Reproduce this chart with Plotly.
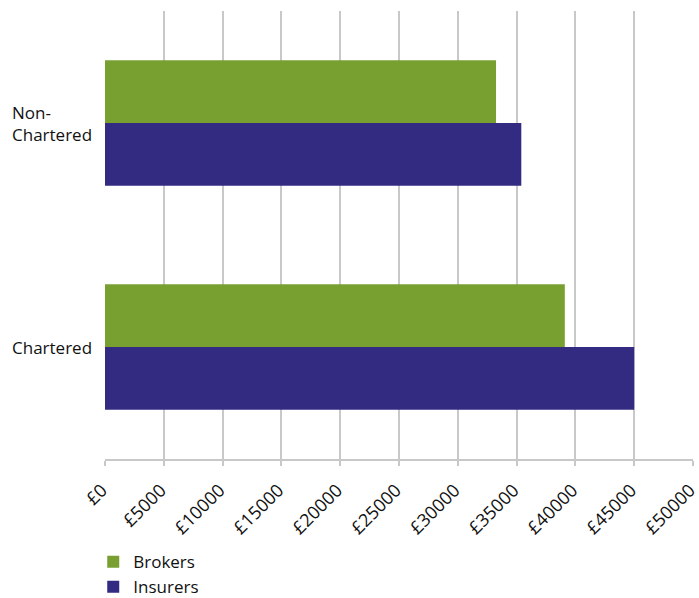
import plotly.graph_objects as go

categories = ["Chartered", "Non-Chartered"]
category_labels = ["Chartered", "Non-<br>Chartered"]
brokers = [39100, 33250]
insurers = [45000, 35400]
x_ticks = list(range(0, 50001, 5000))
x_tick_labels = ["£" + str(v) for v in x_ticks]

GREEN = "#78a030"
BLUE = "#332a82"
FONT = "Open Sans"
FS = 17

fig = go.Figure()
fig.add_trace(go.Bar(y=categories, x=insurers, orientation="h", name="Insurers",
                     marker=dict(color=BLUE, line=dict(width=0))))
fig.add_trace(go.Bar(y=categories, x=brokers, orientation="h", name="Brokers",
                     marker=dict(color=GREEN, line=dict(width=0))))

annotations = []
for c, lab in zip(categories, category_labels):
    annotations.append(dict(x=-95 / 588, xref="paper", y=c, yref="y", text=lab,
                            xanchor="left", yanchor="middle", align="left",
                            showarrow=False, font=dict(family=FONT, size=FS, color="#111111")))

fig.update_layout(
    width=699, height=598,
    margin=dict(l=105, r=6, t=11, b=139, autoexpand=False),
    paper_bgcolor="white", plot_bgcolor="white",
    barmode="group", bargap=0.44, bargroupgap=0,
    font=dict(family=FONT, size=FS, color="#111111"),
    showlegend=True,
    legend=dict(orientation="v", traceorder="reversed", x=-0.02, y=-0.19, xanchor="left", yanchor="top",
                font=dict(family=FONT, size=FS, color="#111111"), itemwidth=30,
                tracegroupgap=0, bgcolor="rgba(0,0,0,0)"),
    annotations=annotations,
)
fig.update_xaxes(range=[0, 50000], tickvals=x_ticks, ticktext=x_tick_labels, tickangle=-45,
                 automargin=False, ticklabeloverflow="allow",
                 ticklabelstandoff=7, ticklabelshift=-3,
                 showgrid=True, gridcolor="#c8c8c8", gridwidth=1.5,
                 showline=True, linecolor="#c8c8c8", linewidth=1.5,
                 ticks="outside", ticklen=5, tickcolor="#c8c8c8", tickwidth=1.5,
                 zeroline=False, tickfont=dict(family=FONT, size=18, color="#111111"))
fig.update_yaxes(showticklabels=False, showgrid=False, zeroline=False, showline=False,
                 automargin=False,
                 categoryorder="array", categoryarray=categories)

fig.write_html("out.html", config={"displayModeBar": False},
               post_script="document.body.style.margin='0';document.body.style.overflow='hidden';")
